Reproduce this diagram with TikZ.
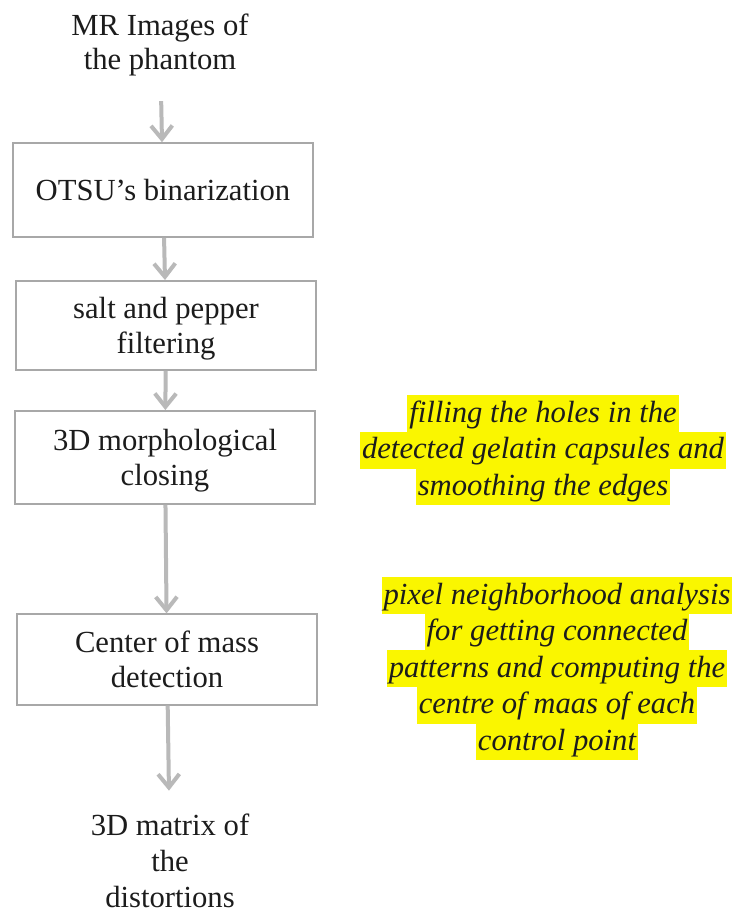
\documentclass[tikz,border=0pt]{standalone}
\usepackage{fontspec}
\setmainfont{Liberation Serif}
\usetikzlibrary{arrows.meta}
\definecolor{framegray}{RGB}{168,168,168}
\definecolor{arrowgray}{RGB}{185,185,185}
\definecolor{marker}{RGB}{250,246,0}
\definecolor{ink}{RGB}{28,28,28}
\begin{document}
\begin{tikzpicture}[x=0.75pt,y=-0.75pt,
  every node/.style={text=ink},
  stepbox/.style={draw=framegray,line width=1.2pt,minimum width=225pt,
    align=center,inner sep=0pt,text depth=0pt,font=\fontsize{23}{26.25}\selectfont},
  plain/.style={align=center,inner sep=0pt,font=\fontsize{23}{25.5}\selectfont},
  note/.style={fill=marker,inner xsep=1.5pt,inner ysep=0pt,text height=20pt,
    text depth=7.5pt,anchor=base,font=\fontsize{23}{27}\selectfont\itshape},
  flow/.style={draw=arrowgray,line width=3pt,
    -{Straight Barb[length=10pt,width=16pt]}}]

\useasboundingbox (0,0) rectangle (736,912);
\fill[white] (0,0) rectangle (736,912);

% processing chain
\node[plain] (src) at (160,44.5) {MR Images of\\the phantom};
\node[stepbox,minimum height=70.5pt] (otsu) at (163,190) {OTSU’s binarization};
\node[stepbox,minimum height=67pt] (salt) at (166,325.5) {salt and pepper\\filtering};
\node[stepbox,minimum height=70pt] (close) at (165,457.5) {3D morphological\\closing};
\node[stepbox,minimum height=68pt] (com) at (167,659.5) {Center of mass\\detection};
\node[plain,font=\fontsize{23}{27}\selectfont] (out) at (170,860.5)
  {3D matrix of\\the\\distortions};

\draw[flow,shorten <=19pt] (src) -- (otsu);
\draw[flow] (otsu) -- (salt);
\draw[flow] (salt) -- (close);
\draw[flow] (close) -- (com);
\draw[flow,shorten >=17pt] (com) -- (out);

% highlighted remarks
\node[note] (n1a) at (543,422) {filling the holes in the};
\node[note] (n1b) at (543,458.5) {detected gelatin capsules and};
\node[note] (n1c) at (543,495) {smoothing the edges};

\node[note] (n2a) at (557,604) {pixel neighborhood analysis};
\node[note] (n2b) at (557,640.5) {for getting connected};
\node[note] (n2c) at (557,677) {patterns and computing the};
\node[note] (n2d) at (557,713.5) {centre of maas of each};
\node[note] (n2e) at (557,750) {control point};
\end{tikzpicture}
\end{document}
